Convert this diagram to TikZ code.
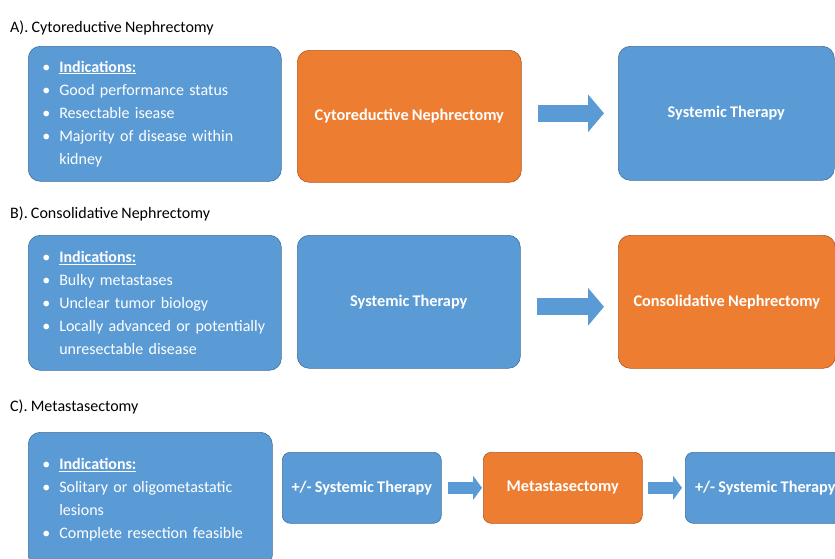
\documentclass[tikz,border=0pt]{standalone}
\usepackage{fontspec}
\setmainfont{Carlito}
\usepackage[dvipsnames]{xcolor}
\usetikzlibrary{arrows.meta}

\definecolor{boxblue}{HTML}{5B9BD5}
\definecolor{boxblueline}{HTML}{41719C}
\definecolor{boxorange}{HTML}{ED7D31}
\definecolor{boxorangeline}{HTML}{AE5A21}

\newcommand{\bul}{\makebox[17pt][l]{\textbullet}}
\newcommand{\cont}{\hspace*{17pt}}
\newcommand{\tightwords}{\spaceskip=3.2pt plus 1pt\relax}

\begin{document}
\begin{tikzpicture}[x=1pt,y=-1pt,
    title node/.style={anchor=west,inner sep=0pt,font=\fontsize{16}{18}\selectfont\tightwords},
    list node/.style={anchor=north west,rounded corners=12pt,fill=boxblue,draw=boxblueline,line width=0.6pt,
        text=white,text width=225pt,inner xsep=14pt,minimum height=135pt,align=left,
        font=\fontsize{16}{23}\selectfont\tightwords},
    main node/.style={anchor=north west,rounded corners=12pt,draw,line width=0.6pt,text=white,
        align=center,font=\bfseries\fontsize{16.3}{18}\selectfont\tightwords},
    blue node/.style={main node,fill=boxblue,draw=boxblueline},
    orange node/.style={main node,fill=boxorange,draw=boxorangeline},
    big arrow/.style={draw=boxblue,line width=17pt,-{Triangle[width=37pt,length=16pt]},shorten <=16pt,shorten >=14pt},
    small arrow/.style={draw=boxblue,line width=12pt,-{Triangle[width=24pt,length=9pt]}}]

    \clip (0,0) rectangle (835,558);

    % A
    \node[title node] (ta) at (10,28) {A). Cytoreductive Nephrectomy};
    \node[list node] (a1) at (28,46) {\bul\underline{\textbf{Indications:}}\\
        \bul Good performance status\\
        \bul Resectable isease\\
        \bul Majority of disease within\\
        \cont kidney};
    \node[orange node, minimum width=224pt, minimum height=132pt] (a2) at (297,50) {Cytoreductive Nephrectomy};
    \node[blue node, minimum width=216pt, minimum height=134pt] (a3) at (618,46) {Systemic Therapy};

    \draw[big arrow] (a2.east |- a3.west) -- (a3.west);

    % B
    \node[title node] (tb) at (10,214) {B). Consolidative Nephrectomy};
    \node[list node] (b1) at (28,235) {\bul\underline{\textbf{Indications:}}\\
        \bul Bulky metastases\\
        \bul Unclear tumor biology\\
        \bul Locally advanced or potentially\\
        \cont unresectable disease};
    \node[blue node, minimum width=223pt, minimum height=133pt] (b2) at (297,235) {Systemic Therapy};
    \node[orange node, minimum width=217pt, minimum height=133pt] (b3) at (618,235) {Consolidative Nephrectomy};

    \draw[big arrow] ([yshift=-5pt]b2.east) -- ([yshift=-5pt]b3.west);

    % C
    \node[title node] (tc) at (10,407) {C). Metastasectomy};
    \node[list node, text width=216pt] (c1) at (28,432) {\bul\underline{\textbf{Indications:}}\\
        \bul Solitary or oligometastatic\\
        \cont lesions\\
        \bul Complete resection feasible};
    \node[blue node, rounded corners=8pt, minimum width=159pt, minimum height=71pt] (c2) at (282,452) {+/- Systemic Therapy};
    \node[orange node, rounded corners=8pt, minimum width=159pt, minimum height=71pt] (c3) at (483,452) {Metastasectomy};
    \node[blue node, rounded corners=8pt, minimum width=160pt, minimum height=71pt] (c4) at (685,452) {+/- Systemic Therapy};

    \draw[small arrow, shorten <=6pt, shorten >=1pt] (c2) -- (c3);
    \draw[small arrow, shorten <=5pt, shorten >=3pt] (c3) -- (c4);
\end{tikzpicture}
\end{document}
